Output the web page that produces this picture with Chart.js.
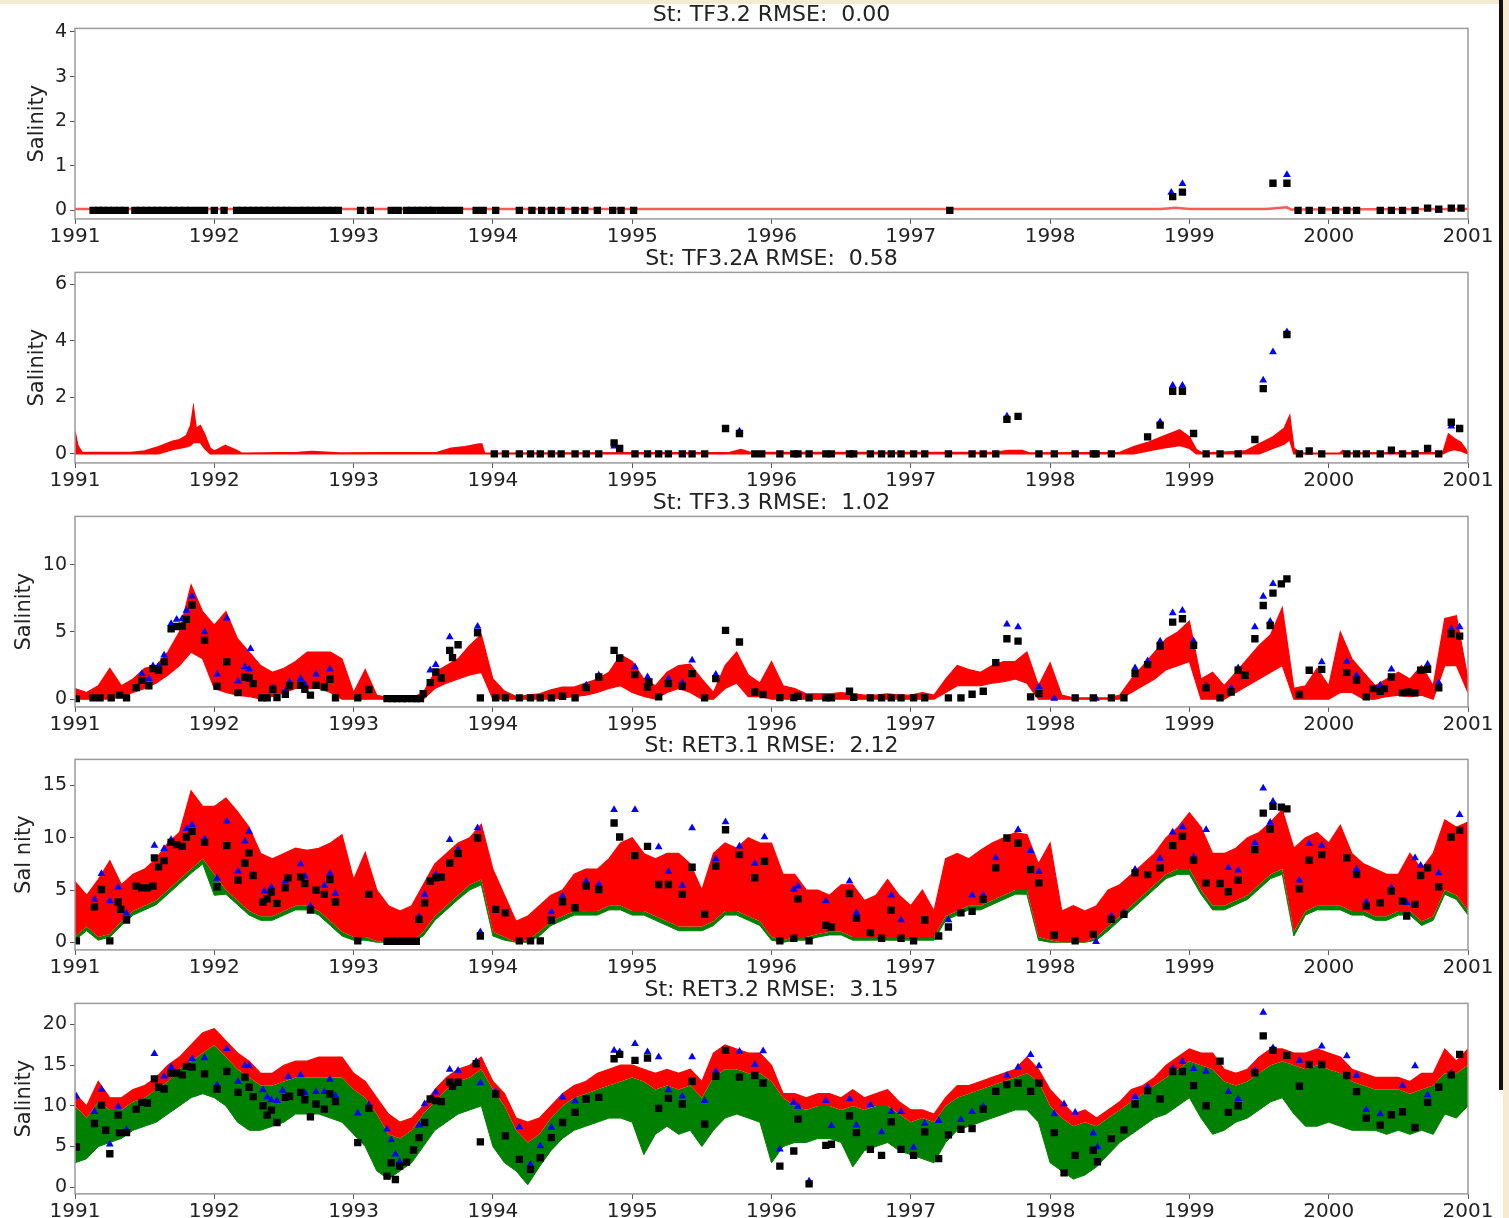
<!DOCTYPE html>
<html>
<head>
<meta charset="utf-8">
<script src="https://cdn.jsdelivr.net/npm/chart.js@4.4.0/dist/chart.umd.min.js"></script>
<style>
    body { margin: 0; background: #fff; }
    #figura { position: relative; width: 1509px; height: 1218px; background: #fff; overflow: hidden; }
    #figura canvas { position: absolute; left: 0; }
    .borde-sup { position: absolute; left: 0; top: 0; width: 1509px; height: 4px; background: #f6ead0; }
    .borde-der { position: absolute; left: 1499px; top: 0; width: 4px; height: 1090px; background: #111; }
    .fondo-der { position: absolute; left: 1503px; top: 0; width: 6px; height: 1218px; background: #f6ead0; }
</style>
</head>
<body>
<div id="figura">
    <div class="borde-sup"></div>
    <div class="fondo-der"></div>
    <div class="borde-der"></div>
    <canvas id="g1" width="1509" height="249"></canvas>
    <canvas id="g2" width="1509" height="249"></canvas>
    <canvas id="g3" width="1509" height="249"></canvas>
    <canvas id="g4" width="1509" height="249"></canvas>
    <canvas id="g5" width="1509" height="249"></canvas>
</div>
<script>
// etiquetas del eje x
const anios = [1991, 1992, 1993, 1994, 1995, 1996, 1997, 1998, 1999, 2000, 2001];
// malla mensual 1991.0 .. 2001.0 (121 puntos)
const meses = Array.from({length: 121}, (_, k) => 1991 + k / 12);

// ---------- St: TF3.2 ----------
const tf32Modelo = [[1991, 0.03], [1998.8, 0.03], [1998.9, 0.06], [1999.0, 0.03], [1999.55, 0.03], [1999.7, 0.07], [1999.73, 0.02], [2001, 0.03]];
const tf32Obs = [
    [1991.13,0],[1991.17,0],[1991.20,0],[1991.24,0],[1991.28,0],[1991.32,0],[1991.36,0],[1991.43,0],[1991.47,0],[1991.51,0],
    [1991.55,0],[1991.59,0],[1991.63,0],[1991.67,0],[1991.71,0],[1991.75,0],[1991.79,0],[1991.83,0],[1991.88,0],[1991.93,0],
    [1992.00,0],[1992.07,0],[1992.16,0],[1992.20,0],[1992.24,0],[1992.28,0],[1992.32,0],[1992.36,0],[1992.40,0],[1992.44,0],
    [1992.48,0],[1992.52,0],[1992.56,0],[1992.61,0],[1992.65,0],[1992.69,0],[1992.73,0],[1992.77,0],[1992.81,0],[1992.85,0],
    [1992.89,0],[1993.05,0],[1993.12,0],[1993.27,0],[1993.32,0],[1993.38,0],[1993.42,0],[1993.46,0],[1993.50,0],[1993.54,0],
    [1993.57,0],[1993.62,0],[1993.66,0],[1993.71,0],[1993.76,0],[1993.88,0],[1993.93,0],[1994.02,0],[1994.19,0],[1994.28,0],
    [1994.35,0],[1994.42,0],[1994.49,0],[1994.59,0],[1994.66,0],[1994.75,0],[1994.86,0],[1994.92,0],[1995.01,0],[1997.28,0],
    [1998.88,0.31],[1998.95,0.41],[1999.60,0.61],[1999.70,0.61],[1999.78,0],[1999.86,0],[1999.95,0],[2000.05,0],[2000.13,0],
    [2000.20,0],[2000.37,0],[2000.45,0],[2000.53,0],[2000.62,0],[2000.71,0.05],[2000.79,0.03],[2000.88,0.05],[2000.95,0.05]
];
const tf32Azul = [[1998.87,0.40],[1998.95,0.60],[1999.70,0.80],[2000.79,0.0]];

// ---------- St: TF3.2A ----------  [año, máximo, mínimo]
const tf32aModelo = [
    [1991.0,0.8,0],[1991.02,0.3,0],[1991.05,0.05,0],[1991.4,0.05,0],[1991.5,0.1,0],[1991.6,0.25,0],[1991.7,0.45,0.15],
    [1991.75,0.5,0.2],[1991.8,0.65,0.25],[1991.83,1.0,0.3],[1991.85,1.65,0.4],[1991.87,0.9,0.4],[1991.9,1.0,0.4],
    [1991.93,0.7,0.2],[1991.97,0.2,0],[1992.0,0.1,0],[1992.08,0.3,0],[1992.1,0.25,0],[1992.15,0.15,0],[1992.2,0.02,0],
    [1992.6,0.05,0],[1992.7,0.08,0],[1992.9,0.03,0],[1993.6,0.05,0],[1993.7,0.2,0],[1993.8,0.25,0],[1993.9,0.35,0],
    [1993.92,0.35,0],[1993.94,0.02,0],[1995.7,0.05,0],[1995.78,0.15,0],[1995.85,0.05,0],[1997.6,0.05,0],[1997.7,0.12,0],
    [1997.8,0.12,0],[1997.85,0.03,0],[1998.5,0.05,0],[1998.6,0.25,0],[1998.7,0.4,0.1],[1998.8,0.6,0.2],[1998.93,0.85,0.3],
    [1999.0,0.6,0.2],[1999.05,0.15,0],[1999.1,0.02,0],[1999.4,0.1,0],[1999.5,0.35,0],[1999.6,0.6,0.2],[1999.68,0.9,0.35],
    [1999.72,1.35,0.5],[1999.75,0.2,0],[1999.8,0.02,0],[2000.08,0.03,0],[2000.1,0.12,0],[2000.12,0.03,0],[2000.82,0.05,0],
    [2000.86,0.7,0.1],[2000.9,0.55,0.15],[2000.95,0.4,0.1],[2001.0,0.05,0]
];
const tf32aObs = [
    [1994.01,0],[1994.09,0],[1994.19,0],[1994.27,0],[1994.34,0],[1994.42,0],[1994.49,0],[1994.59,0],[1994.67,0],[1994.76,0],
    [1994.87,0.39],[1994.91,0.19],[1995.02,0],[1995.11,0],[1995.19,0],[1995.26,0],[1995.36,0],[1995.43,0],[1995.52,0],
    [1995.67,0.9],[1995.77,0.72],[1995.88,0],[1995.93,0],[1996.06,0],[1996.16,0],[1996.19,0],[1996.27,0],[1996.39,0],
    [1996.43,0],[1996.56,0],[1996.59,0],[1996.71,0],[1996.79,0],[1996.86,0],[1996.93,0],[1997.02,0],[1997.10,0],[1997.27,0],
    [1997.44,0],[1997.52,0],[1997.61,0],[1997.69,1.22],[1997.77,1.33],[1997.92,0],[1998.03,0],[1998.18,0],[1998.31,0],
    [1998.33,0],[1998.44,0],[1998.70,0.6],[1998.79,1.02],[1998.88,2.22],[1998.95,2.22],[1999.03,0.72],[1999.12,0],[1999.22,0],
    [1999.35,0],[1999.47,0.51],[1999.53,2.31],[1999.70,4.23],[1999.79,0],[1999.86,0.1],[1999.95,0],[2000.13,0],[2000.20,0],
    [2000.27,0],[2000.37,0],[2000.45,0.13],[2000.53,0],[2000.62,0],[2000.71,0.19],[2000.79,0],[2000.88,1.12],[2000.94,0.9]
];
const tf32aAzul = [[1994.87,0.27],[1995.77,0.8],[1997.69,1.33],[1998.79,1.13],[1998.88,2.42],[1998.95,2.42],[1999.53,2.61],[1999.60,3.61],[1999.70,4.32],[2000.88,0.98]];

// ---------- St: TF3.3 ---------- (mensual)
const tf33Max = [
    0.8, 0.5, 1.0, 2.3, 1.0, 1.5, 2.3, 2.5, 3.5, 5.0, 8.5, 6.5,
    5.5, 6.5, 4.5, 3.5, 2.5, 2.0, 2.3, 2.8, 3.5, 3.5, 3.5, 3.0,
    0.5, 2.2, 0.3, 0.1, 0.1, 0.1, 0.5, 2.0, 2.5, 3.0, 4.0, 4.8,
    1.5, 0.6, 0.2, 0.3, 0.4, 0.7, 0.9, 0.9, 1.2, 1.5, 2.0, 3.3,
    2.8, 1.5, 1.0, 2.0, 2.5, 2.6, 1.5, 0.5, 2.5, 3.5, 1.8, 1.2,
    2.8, 1.0, 0.8, 0.4, 0.4, 0.4, 0.5, 0.4, 0.3, 0.3, 0.4, 0.3,
    0.3, 0.5, 0.3, 1.5, 2.5, 2.2, 2.0, 2.5, 2.8, 2.8, 3.5, 1.0,
    2.7, 0.3, 0.1, 0.1, 0.1, 0.1, 0.3, 1.5, 2.5, 3.5, 4.5, 5.0,
    5.8, 1.5, 2.0, 1.0, 2.0, 3.0, 4.0, 4.8, 6.8, 0.8, 1.0, 2.3,
    1.0, 5.0, 3.0, 2.0, 1.0, 1.5, 2.0, 1.5, 2.5, 1.0, 6.0, 6.2,
    1.5
];
const tf33Min = [
    0, 0, 0, 0, 0.2, 0.5, 0.8, 1.2, 1.8, 2.5, 3.5, 3.0,
    0.8, 0.5, 0.3, 0.2, 0, 0.2, 0.5, 0.8, 0.8, 0.8, 0.5, 0,
    0, 0, 0, 0, 0, 0, 0, 0.8, 1.2, 1.5, 1.8, 2.0,
    0, 0, 0, 0, 0, 0, 0.1, 0.2, 0.3, 0.5, 0.8, 1.0,
    0.5, 0.2, 0, 0.5, 0.8, 0.5, 0, 0, 0.8, 1.2, 0.2, 0.2,
    0, 0, 0, 0, 0, 0, 0, 0, 0, 0, 0, 0,
    0, 0, 0, 0.5, 1.0, 1.0, 1.0, 1.2, 1.3, 1.5, 1.2, 0,
    0, 0, 0, 0, 0, 0, 0, 0.5, 1.0, 1.5, 2.2, 2.5,
    2.8, 0, 0, 0, 0.5, 1.0, 1.5, 2.0, 2.5, 0, 0, 0,
    0, 0.5, 0.5, 0, 0, 0.2, 0.3, 0.2, 0.3, 0, 2.5, 2.5,
    0.5
];
const tf33Obs = [
    [1991.01,0.05],[1991.13,0.1],[1991.18,0.1],[1991.26,0.1],[1991.32,0.3],[1991.37,0.1],[1991.44,0.86],[1991.48,1.4],
    [1991.53,1.0],[1991.56,2.27],[1991.60,2.15],[1991.64,2.77],[1991.69,5.23],[1991.73,5.4],[1991.77,5.43],[1991.80,5.93],
    [1991.84,7.0],[1991.93,4.37],[1992.02,0.96],[1992.09,2.77],[1992.17,0.49],[1992.22,1.65],[1992.25,1.58],[1992.28,1.16],
    [1992.34,0.1],[1992.38,0.1],[1992.42,0.74],[1992.45,0.12],[1992.51,0.37],[1992.54,1.0],[1992.62,1.04],[1992.65,0.74],
    [1992.69,0.3],[1992.73,1.04],[1992.79,0.91],[1992.83,1.48],[1992.87,0.1],[1993.03,0.1],[1993.11,0.72],[1993.24,0.05],
    [1993.28,0.05],[1993.31,0.05],[1993.35,0.05],[1993.38,0.05],[1993.42,0.05],[1993.45,0.05],[1993.48,0.05],[1993.50,0.42],
    [1993.55,1.23],[1993.59,2.02],[1993.63,1.58],[1993.69,3.63],[1993.71,3.09],[1993.75,4.05],[1993.89,4.94],[1993.91,0.1],
    [1994.02,0.1],[1994.09,0.1],[1994.19,0.1],[1994.27,0.1],[1994.34,0.1],[1994.42,0.1],[1994.50,0.22],[1994.59,0.1],
    [1994.67,0.86],[1994.76,1.65],[1994.87,3.63],[1994.91,3.06],[1995.02,1.83],[1995.11,0.91],[1995.12,1.28],[1995.19,0.17],
    [1995.26,1.16],[1995.36,0.96],[1995.43,1.9],[1995.52,0.1],[1995.60,1.53],[1995.67,5.11],[1995.77,4.25],[1995.88,0.54],
    [1995.94,0.35],[1996.06,0.12],[1996.16,0.12],[1996.19,0.22],[1996.27,0.1],[1996.39,0.1],[1996.43,0.1],[1996.56,0.59],
    [1996.59,0.15],[1996.71,0.1],[1996.79,0.1],[1996.86,0.1],[1996.93,0.1],[1997.02,0.1],[1997.10,0.1],[1997.27,0.1],
    [1997.36,0.1],[1997.44,0.37],[1997.52,0.59],[1997.61,2.72],[1997.69,4.49],[1997.77,4.32],[1997.86,0.17],[1997.92,0.42],
    [1998.18,0.1],[1998.31,0.1],[1998.44,0.1],[1998.53,0.1],[1998.61,1.9],[1998.70,2.57],[1998.79,3.95],[1998.88,5.73],
    [1998.95,5.98],[1999.03,4.0],[1999.12,0.84],[1999.22,0.1],[1999.30,0.54],[1999.35,2.15],[1999.40,1.78],[1999.47,4.49],
    [1999.53,6.96],[1999.58,5.48],[1999.60,7.88],[1999.66,8.57],[1999.70,8.94],[1999.79,0.35],[1999.86,2.15],[1999.95,2.22],
    [2000.13,1.98],[2000.20,1.41],[2000.27,0.17],[2000.32,0.79],[2000.37,0.59],[2000.40,0.79],[2000.45,1.65],[2000.53,0.47],
    [2000.57,0.54],[2000.62,0.47],[2000.66,2.15],[2000.71,2.22],[2000.79,0.84],[2000.88,4.86],[2000.94,4.69]
];
const tf33Azul = [
    [1991.48,1.9],[1991.53,1.53],[1991.56,2.47],[1991.60,2.47],[1991.64,3.26],[1991.69,5.6],[1991.73,5.93],[1991.77,5.98],
    [1991.80,6.59],[1991.84,7.65],[1991.93,4.99],[1992.02,1.85],[1992.09,6.02],[1992.17,1.33],[1992.22,2.4],[1992.25,2.22],
    [1992.26,3.75],[1992.42,0.84],[1992.51,0.6],[1992.54,1.28],[1992.62,1.53],[1992.65,1.09],[1992.73,1.85],[1992.83,2.22],
    [1993.55,2.15],[1993.59,2.57],[1993.69,4.62],[1993.89,5.41],[1994.67,1.04],[1994.76,1.78],[1995.02,2.4],[1995.11,1.65],
    [1995.26,1.53],[1995.36,1.23],[1995.43,2.89],[1995.60,1.83],[1997.69,5.56],[1997.77,5.36],[1997.92,0.91],[1998.03,0.05],
    [1998.33,0.05],[1998.61,2.32],[1998.70,2.84],[1998.79,4.3],[1998.88,6.4],[1998.95,6.59],[1999.03,4.32],[1999.12,0.99],
    [1999.30,0.84],[1999.35,2.32],[1999.47,5.36],[1999.53,7.63],[1999.58,5.78],[1999.60,8.57],[1999.95,2.77],[2000.13,2.81],
    [2000.20,1.78],[2000.37,1.04],[2000.45,2.22],[2000.71,2.59],[2000.79,1.23],[2000.88,5.23],[2000.94,5.36]
];

// ---------- St: RET3.1 ---------- (mensual)
const ret31Max = [
    5.8, 4.5, 6.0, 7.8, 5.5, 6.5, 7.0, 8.0, 9.5, 10.5, 14.5, 13.0,
    13.0, 13.8, 12.5, 11.0, 8.5, 8.0, 8.5, 9.0, 8.8, 9.0, 9.5, 10.3,
    6.0, 8.6, 5.0, 3.5, 3.0, 3.5, 5.5, 7.5, 8.5, 9.5, 10.0, 11.3,
    7.0, 4.5, 2.0, 2.5, 3.5, 4.5, 5.0, 6.5, 7.0, 7.0, 8.0, 9.5,
    10.0, 8.5, 8.0, 8.5, 8.5, 7.5, 5.0, 8.5, 9.5, 9.0, 10.0, 9.5,
    9.5, 6.5, 6.5, 5.0, 5.0, 4.5, 5.5, 5.5, 4.0, 4.5, 6.0, 4.5,
    3.5, 5.0, 3.0, 8.0, 8.5, 8.0, 8.8, 9.5, 10.0, 10.5, 10.3, 7.5,
    9.5, 3.0, 3.5, 3.0, 3.5, 5.0, 5.5, 6.5, 7.5, 8.5, 10.0, 11.0,
    12.4, 11.0, 8.5, 8.5, 9.0, 10.0, 10.5, 11.5, 12.7, 9.0, 10.0, 10.5,
    9.5, 11.2, 8.5, 7.5, 7.0, 6.5, 6.5, 8.5, 7.0, 8.5, 11.7, 11.0,
    11.5
];
const ret31Min = [
    0.5, 1.5, 0.5, 0.8, 2.0, 3.0, 3.5, 4.0, 5.0, 6.0, 7.0, 8.0,
    6.5, 5.0, 4.0, 3.0, 2.5, 2.5, 3.0, 3.5, 3.5, 3.0, 2.0, 1.0,
    0.5, 0.5, 0.1, 0, 0, 0, 1.0, 2.5, 3.5, 4.5, 5.5, 6.0,
    1.0, 0.5, 0, 0.2, 1.0, 2.0, 2.5, 3.0, 3.0, 3.0, 3.5, 3.5,
    3.0, 3.0, 2.5, 2.0, 1.5, 1.5, 1.5, 2.0, 3.0, 3.0, 2.5, 2.0,
    0.5, 0.2, 0.5, 0.5, 0.8, 1.0, 1.0, 0.5, 0.5, 0.5, 0.5, 0.5,
    0.5, 0.5, 0.5, 2.5, 3.0, 3.5, 3.5, 4.0, 4.5, 5.0, 5.0, 0.5,
    0.2, 0, 0, 0, 0.5, 1.5, 2.5, 3.5, 4.5, 5.5, 6.5, 7.0,
    7.0, 5.0, 3.5, 3.5, 4.0, 4.5, 5.5, 6.5, 7.0, 1.0, 3.0, 3.5,
    3.5, 3.5, 3.0, 3.0, 2.5, 2.5, 3.0, 3.0, 2.0, 2.5, 5.0, 4.5,
    3.0
];
const ret31Verde = [
    0.2, 1.1, 0.2, 0.5, 1.6, 2.6, 3.1, 3.6, 4.6, 5.6, 6.6, 7.5,
    4.5, 4.6, 3.6, 2.6, 2.1, 2.1, 2.6, 3.1, 3.1, 2.6, 1.6, 0.6,
    0.2, 0.2, 0, 0, 0, 0, 0.6, 2.1, 3.1, 4.1, 5.0, 5.5,
    0.6, 0.2, 0, 0, 0.6, 1.6, 2.1, 2.6, 2.6, 2.6, 3.1, 3.1,
    2.6, 2.6, 2.1, 1.6, 1.1, 1.1, 1.1, 1.6, 2.6, 2.6, 2.1, 1.6,
    0.2, 0, 0.2, 0.2, 0.5, 0.7, 0.7, 0.2, 0.2, 0.2, 0.2, 0.2,
    0.2, 0.2, 0.2, 2.1, 2.6, 3.1, 3.1, 3.6, 4.1, 4.6, 4.6, 0.2,
    0, 0, 0, 0, 0.2, 1.1, 2.1, 3.1, 4.1, 5.1, 6.1, 6.5,
    6.5, 4.6, 3.1, 3.1, 3.6, 4.1, 5.1, 6.1, 6.5, 0.6, 2.6, 3.1,
    3.1, 3.1, 2.6, 2.6, 2.1, 2.1, 2.6, 2.6, 1.6, 2.1, 4.6, 4.1,
    2.6
];
const ret31Obs = [
    [1991.01,0.13],[1991.14,3.4],[1991.19,5.05],[1991.25,0.13],[1991.31,3.85],[1991.33,3.15],[1991.37,2.13],[1991.44,5.37],
    [1991.48,5.21],[1991.52,5.21],[1991.56,5.37],[1991.57,8.07],[1991.60,7.21],[1991.64,7.82],[1991.69,9.56],[1991.73,9.34],
    [1991.77,9.18],[1991.80,10.07],[1991.84,10.61],[1991.93,9.56],[1992.02,5.31],[1992.09,9.25],[1992.17,5.94],[1992.22,7.59],
    [1992.25,8.55],[1992.28,6.39],[1992.35,3.85],[1992.38,4.16],[1992.41,4.8],[1992.45,3.72],[1992.51,5.21],[1992.53,6.16],
    [1992.62,6.26],[1992.65,5.62],[1992.69,3.08],[1992.73,4.99],[1992.79,4.58],[1992.83,6.01],[1992.87,3.85],[1993.03,0.13],
    [1993.11,4.58],[1993.24,0.1],[1993.28,0.1],[1993.31,0.1],[1993.35,0.1],[1993.38,0.1],[1993.42,0.1],[1993.45,0.1],
    [1993.47,2.19],[1993.51,3.78],[1993.55,5.85],[1993.59,6.16],[1993.63,6.23],[1993.69,7.59],[1993.75,8.48],[1993.89,9.98],
    [1993.91,0.6],[1994.02,3.15],[1994.09,2.83],[1994.19,0.13],[1994.27,0.13],[1994.34,0.13],[1994.42,2.13],[1994.50,3.88],
    [1994.59,3.3],[1994.67,5.37],[1994.76,5.05],[1994.87,11.41],[1994.91,10.07],[1995.02,8.29],[1995.11,9.18],[1995.19,5.53],
    [1995.26,5.53],[1995.36,4.58],[1995.43,7.18],[1995.52,2.67],[1995.60,7.28],[1995.67,10.77],[1995.77,8.39],[1995.88,6.16],
    [1995.95,7.75],[1996.06,0.13],[1996.16,0.38],[1996.19,4.16],[1996.27,0.13],[1996.39,1.62],[1996.43,1.46],[1996.56,4.67],
    [1996.61,2.29],[1996.71,0.92],[1996.79,0.38],[1996.86,3.08],[1996.93,0.38],[1997.02,0.13],[1997.10,2.13],[1997.20,0.6],
    [1997.27,1.46],[1997.36,2.83],[1997.44,2.96],[1997.52,4.1],[1997.61,7.12],[1997.69,9.98],[1997.77,9.5],[1997.86,6.96],
    [1997.92,5.69],[1998.03,0.7],[1998.18,0.13],[1998.31,0.76],[1998.44,2.19],[1998.53,2.67],[1998.61,6.64],[1998.70,6.48],
    [1998.79,7.12],[1998.88,9.25],[1998.95,10.14],[1999.03,7.85],[1999.12,5.69],[1999.22,5.62],[1999.28,4.83],[1999.35,5.94],
    [1999.47,8.87],[1999.53,12.36],[1999.58,10.84],[1999.60,13.0],[1999.66,12.93],[1999.70,12.77],[1999.79,5.12],[1999.86,7.85],
    [1999.95,8.39],[2000.13,8.07],[2000.20,6.48],[2000.27,3.46],[2000.37,3.78],[2000.45,4.89],[2000.53,3.94],[2000.56,2.51],
    [2000.62,3.62],[2000.66,6.39],[2000.71,7.12],[2000.79,5.31],[2000.88,10.07],[2000.94,10.71]
];
const ret31Azul = [
    [1991.14,4.1],[1991.19,6.55],[1991.25,3.94],[1991.31,5.27],[1991.37,2.76],[1991.57,9.25],[1991.64,8.96],[1991.69,9.82],
    [1991.80,10.87],[1991.84,11.25],[1991.93,9.88],[1992.02,6.1],[1992.09,11.57],[1992.17,6.8],[1992.22,9.66],[1992.25,10.61],
    [1992.28,6.48],[1992.36,4.89],[1992.41,5.27],[1992.51,5.85],[1992.62,7.5],[1992.65,6.32],[1992.69,3.46],[1992.79,5.43],
    [1992.83,6.58],[1992.87,4.67],[1993.47,2.45],[1993.51,4.58],[1993.59,6.48],[1993.69,9.82],[1993.75,8.87],[1993.89,10.93],
    [1993.91,0.99],[1994.42,2.89],[1994.50,4.42],[1994.67,5.85],[1994.76,5.53],[1994.87,12.68],[1995.02,12.68],[1995.19,9.12],
    [1995.26,6.74],[1995.36,5.43],[1995.43,10.93],[1995.60,7.98],[1995.67,11.5],[1995.77,9.18],[1995.88,7.53],[1995.95,10.07],
    [1996.16,5.05],[1996.19,5.37],[1996.39,3.94],[1996.56,5.85],[1996.61,2.83],[1996.86,4.51],[1996.93,2.13],[1997.27,2.13],
    [1997.44,4.51],[1997.52,4.51],[1997.61,8.07],[1997.77,10.77],[1997.86,8.77],[1997.92,6.74],[1998.33,0.06],[1998.44,2.51],
    [1998.53,2.83],[1998.61,6.96],[1998.79,8.01],[1998.88,10.52],[1998.95,11.03],[1999.03,8.17],[1999.12,10.77],[1999.22,5.59],
    [1999.28,7.12],[1999.35,6.9],[1999.47,9.5],[1999.53,14.74],[1999.58,11.47],[1999.60,13.47],[1999.79,5.94],[1999.86,9.44],
    [1999.95,9.25],[2000.20,7.02],[2000.27,3.85],[2000.45,5.21],[2000.56,3.78],[2000.62,8.07],[2000.66,7.34],[2000.79,6.64],
    [2000.94,12.2]
];

// ---------- St: RET3.2 ---------- (mensual)
const ret32Max = [
    11.5, 10.0, 13.0, 11.0, 11.0, 12.0, 12.5, 13.5, 15.0, 16.0, 17.5, 19.0,
    19.5, 18.0, 16.5, 15.5, 14.0, 14.0, 15.0, 15.5, 15.5, 16.0, 16.0, 16.0,
    14.0, 13.0, 11.0, 9.0, 8.0, 8.5, 10.0, 12.0, 13.5, 14.5, 15.0, 16.0,
    13.0, 11.5, 8.5, 8.0, 8.5, 10.0, 11.5, 12.5, 13.0, 14.0, 14.5, 15.0,
    15.0, 14.5, 14.0, 14.5, 14.0, 14.5, 13.0, 16.5, 17.5, 17.0, 16.5, 16.5,
    15.0, 11.5, 11.5, 11.0, 11.5, 11.5, 11.0, 12.0, 11.0, 11.5, 12.0, 10.5,
    9.5, 9.5, 9.0, 11.0, 12.5, 12.5, 13.0, 13.5, 14.0, 14.5, 16.0, 14.5,
    12.0, 10.5, 9.0, 9.5, 8.5, 9.5, 10.5, 12.0, 12.5, 13.5, 15.0, 16.0,
    17.0, 16.5, 16.5, 14.5, 14.0, 14.5, 16.0, 17.0, 17.0, 16.5, 16.5, 17.0,
    16.5, 16.0, 14.5, 14.0, 13.5, 13.5, 13.5, 13.0, 14.0, 14.0, 17.0, 15.5,
    17.0
];
const ret32Medio = [
    10, 8.5, 10.5, 9.5, 9.5, 10.5, 11, 12, 13, 14.5, 15.5, 16.5,
    17.5, 16, 14.5, 13.5, 12.5, 12.5, 13, 13.5, 13.5, 13.5, 13.5, 13.5,
    12, 11, 9, 6.5, 6, 7, 9, 10.5, 12, 13, 13.5, 14.5,
    12, 10, 7, 5.5, 6.5, 8.5, 10, 11, 11.5, 12, 12.5, 13,
    13.5, 13, 12, 12.5, 12, 12.5, 11, 13.5, 14.5, 14.5, 14, 14,
    13, 11, 10, 9.5, 10, 10, 9.5, 10, 9.5, 10, 10, 9,
    8, 8.5, 8, 10, 11, 11.5, 12, 12.5, 13, 13.5, 14, 13,
    10, 8.5, 7.5, 8, 7.5, 8.5, 9.5, 10.5, 11.5, 12.5, 13.5, 14.5,
    15.5, 15, 14.5, 13, 12.5, 13, 14, 15, 15.5, 15, 14.5, 15,
    14.5, 14, 13, 12.5, 12, 12, 12, 11.5, 12, 12.5, 14, 14,
    15
];
const ret32Min = [
    3, 3.5, 5, 5.5, 6, 7, 7.5, 8, 9, 10, 11, 11.5,
    11, 10, 8, 7, 7, 7.5, 8, 9, 9, 9, 8.5, 8,
    6.5, 5, 2, 1, 2, 3, 5, 7, 8, 9, 9.5, 10,
    5, 3, 2, 0.3, 2.5, 4.5, 6, 7, 7.5, 8, 8.5, 8.5,
    8, 4, 6.5, 7.5, 6.5, 7, 5, 7, 8.5, 9, 8.5, 8,
    3, 5, 5.5, 5.5, 6, 6, 5.5, 2.5, 4.5, 5, 5.5, 4.5,
    4, 3.5, 3, 5.5, 7, 7.5, 8, 8.5, 9, 9.5, 9.5, 8,
    3, 2, 1, 1.5, 2.5, 4, 5.5, 6.5, 7.5, 8.5, 9, 10,
    11, 8.5, 6.5, 7, 8, 8.5, 9.5, 10.5, 11, 9, 7.5, 7.5,
    8, 7.5, 7, 7, 7, 6.5, 7, 6.5, 7, 6.5, 9, 8.5,
    10
];
const ret32Obs = [
    [1991.01,4.95],[1991.14,7.84],[1991.19,10.1],[1991.22,7.01],[1991.25,4.12],[1991.31,8.87],[1991.32,6.72],[1991.37,6.72],
    [1991.44,9.61],[1991.48,10.43],[1991.52,10.35],[1991.57,13.32],[1991.60,12.29],[1991.64,12.08],[1991.69,14.02],[1991.73,14.02],
    [1991.77,13.81],[1991.80,14.85],[1991.84,14.76],[1991.93,13.94],[1992.02,12.08],[1992.09,14.23],[1992.17,11.67],[1992.22,13.53],
    [1992.25,12.29],[1992.28,11.13],[1992.35,10.02],[1992.38,8.87],[1992.41,9.48],[1992.45,7.96],[1992.51,11.05],[1992.54,11.18],
    [1992.62,11.67],[1992.65,10.76],[1992.69,8.66],[1992.73,10.23],[1992.79,9.61],[1992.83,11.46],[1992.87,10.52],[1993.03,5.48],
    [1993.11,9.69],[1993.24,1.36],[1993.27,3.01],[1993.30,0.95],[1993.33,2.6],[1993.38,3.09],[1993.43,4.58],[1993.47,6.1],
    [1993.51,7.96],[1993.55,10.85],[1993.59,10.64],[1993.63,10.52],[1993.69,12.91],[1993.71,12.41],[1993.75,12.91],[1993.88,15.18],
    [1993.91,5.57],[1994.02,11.46],[1994.09,6.31],[1994.19,3.42],[1994.27,2.19],[1994.34,3.63],[1994.42,6.1],[1994.50,7.96],
    [1994.59,9.2],[1994.67,10.85],[1994.76,11.05],[1994.87,15.79],[1994.91,16.33],[1995.02,15.59],[1995.11,15.88],[1995.19,9.69],
    [1995.26,10.93],[1995.36,10.23],[1995.43,13.03],[1995.52,7.75],[1995.60,13.65],[1995.67,16.82],[1995.77,13.53],[1995.88,13.73],
    [1995.94,12.82],[1996.06,2.6],[1996.16,4.45],[1996.19,8.37],[1996.27,0.41],[1996.39,5.15],[1996.43,5.28],[1996.56,8.78],
    [1996.61,6.72],[1996.71,4.66],[1996.79,3.92],[1996.86,8.04],[1996.93,4.66],[1997.02,3.92],[1997.10,6.8],[1997.20,3.51],
    [1997.27,6.43],[1997.36,7.13],[1997.44,7.22],[1997.52,9.61],[1997.61,11.79],[1997.69,12.62],[1997.77,12.82],[1997.86,11.79],
    [1997.92,12.82],[1998.03,6.72],[1998.10,1.77],[1998.18,3.92],[1998.31,4.54],[1998.34,3.13],[1998.44,5.98],[1998.53,7.05],
    [1998.61,10.23],[1998.70,11.88],[1998.79,10.85],[1998.88,14.23],[1998.95,14.23],[1999.03,12.49],[1999.12,10.02],[1999.22,15.51],
    [1999.28,9.2],[1999.35,10.02],[1999.47,14.06],[1999.53,18.6],[1999.60,16.82],[1999.70,16.21],[1999.79,12.41],[1999.86,15.09],
    [1999.95,15.09],[2000.13,13.73],[2000.20,11.75],[2000.27,8.49],[2000.37,7.63],[2000.45,8.91],[2000.53,9.28],[2000.62,7.34],
    [2000.71,10.43],[2000.79,12.29],[2000.88,13.81],[2000.94,16.33]
];
const ret32Azul = [
    [1991.01,11.18],[1991.14,9.28],[1991.19,12.0],[1991.25,5.28],[1991.31,9.94],[1991.37,7.05],[1991.57,16.41],[1991.64,13.65],
    [1991.69,14.76],[1991.80,14.76],[1991.84,15.79],[1991.93,15.88],[1992.02,12.58],[1992.09,17.03],[1992.17,12.99],[1992.22,14.97],
    [1992.25,14.89],[1992.35,11.96],[1992.38,11.05],[1992.41,10.72],[1992.45,10.64],[1992.49,11.88],[1992.53,13.61],[1992.62,13.81],
    [1992.65,11.59],[1992.73,11.75],[1992.79,11.75],[1992.83,13.24],[1992.87,11.26],[1993.03,9.11],[1993.11,10.1],[1993.24,7.13],
    [1993.27,5.81],[1993.30,4.04],[1993.33,3.13],[1993.47,7.63],[1993.51,10.23],[1993.59,11.67],[1993.69,14.47],[1993.75,14.35],
    [1993.88,15.46],[1993.91,12.82],[1994.02,11.75],[1994.19,7.42],[1994.27,2.8],[1994.34,5.07],[1994.42,7.34],[1994.50,11.05],
    [1994.59,10.56],[1994.87,16.82],[1994.91,16.62],[1995.02,17.65],[1995.11,16.62],[1995.19,16.0],[1995.26,11.96],[1995.36,11.18],
    [1995.43,16.0],[1995.52,10.64],[1995.60,14.23],[1995.77,16.7],[1995.88,15.09],[1995.94,16.74],[1996.06,4.66],[1996.16,10.43],
    [1996.19,9.94],[1996.27,0.74],[1996.39,10.64],[1996.43,7.55],[1996.56,10.85],[1996.61,7.63],[1996.71,10.14],[1996.79,6.8],
    [1996.86,9.28],[1996.93,9.28],[1997.02,4.87],[1997.10,7.84],[1997.20,8.16],[1997.36,8.29],[1997.44,9.28],[1997.52,9.94],
    [1997.69,13.73],[1997.77,14.76],[1997.86,16.29],[1997.92,14.89],[1998.03,8.99],[1998.10,10.23],[1998.18,9.2],[1998.31,6.64],
    [1998.34,4.95],[1998.61,11.13],[1998.70,12.29],[1998.88,14.64],[1998.95,15.46],[1999.03,14.56],[1999.12,14.23],[1999.28,11.75],
    [1999.35,10.85],[1999.47,14.35],[1999.53,21.48],[1999.60,17.11],[1999.79,15.59],[1999.95,17.32],[2000.13,16.12],[2000.20,13.73],
    [2000.27,9.53],[2000.37,8.99],[2000.53,12.49],[2000.62,14.89],[2000.71,11.34],[2000.88,13.94]
];

const ROJO = 'rgb(255, 0, 0)';
const VERDE = 'rgb(0, 128, 0)';
const FUENTE = 'DejaVu Sans';
const ALTO_TITULO = 26.4;   // 22px * 1.2
const ALTO_AREA = 190.5;

Chart.defaults.font.family = FUENTE;

function aPuntos(lista) {
    return lista.map(p => ({x: p[0], y: p[1]}));
}
function mensual(valores) {
    return valores.map((v, k) => ({x: meses[k], y: v}));
}

// dibuja el recuadro completo alrededor del área del gráfico
const marco = {
    id: 'marco',
    afterDraw(chart) {
        const a = chart.chartArea;
        const ctx = chart.ctx;
        ctx.save();
        ctx.strokeStyle = '#9a9a9a';
        ctx.lineWidth = 1.5;
        ctx.strokeRect(a.left, a.top, a.right - a.left, a.bottom - a.top);
        ctx.restore();
    }
};

function linea(datos, color, ancho, relleno, fondo) {
    return {
        type: 'line',
        data: datos,
        borderColor: color,
        borderWidth: ancho,
        backgroundColor: fondo || color,
        fill: relleno,
        pointRadius: 0,
        tension: 0,
        order: 5
    };
}

function mostrarPanel(id, arriba, titulo, etiquetaY, padY, yMin, yMax, yTicks, bandas, negros, azules) {
    const lienzo = document.getElementById(id);
    lienzo.style.top = (arriba - ALTO_TITULO) + 'px';

    const datasets = [
        {
            type: 'line', data: aPuntos(negros), showLine: false,
            pointStyle: 'rect', pointRadius: 5.2, pointBorderWidth: 0,
            pointBackgroundColor: '#000', order: 0
        },
        {
            type: 'line', data: aPuntos(azules), showLine: false,
            pointStyle: 'triangle', pointRadius: 4.5, pointBorderWidth: 0,
            pointBackgroundColor: 'rgb(0, 0, 255)', order: 1
        }
    ].concat(bandas);

    new Chart(lienzo.getContext('2d'), {
        type: 'line',
        data: {datasets: datasets},
        options: {
            responsive: false,
            animation: false,
            devicePixelRatio: 1,
            events: [],
            layout: {padding: {left: 0, right: 41, top: 0, bottom: 0}},
            plugins: {
                legend: {display: false},
                tooltip: {enabled: false},
                title: {
                    display: true, text: titulo, fullSize: false,
                    color: '#222', font: {family: FUENTE, size: 22, weight: 'normal'},
                    padding: {top: 0, bottom: 0}
                }
            },
            scales: {
                x: {
                    type: 'linear', min: 1991, max: 2001,
                    afterFit: s => { s.height = 249 - ALTO_TITULO - ALTO_AREA; },
                    afterBuildTicks: s => { s.ticks = anios.map(v => ({value: v})); },
                    ticks: {
                        callback: v => String(v), color: '#222', padding: 1,
                        maxRotation: 0, autoSkip: false,
                        font: {family: FUENTE, size: 20}
                    },
                    grid: {drawOnChartArea: false, tickLength: 5, color: '#555'},
                    border: {display: false}
                },
                y: {
                    type: 'linear', min: yMin, max: yMax,
                    afterFit: s => { s.width = 75; },
                    afterBuildTicks: s => { s.ticks = yTicks.map(v => ({value: v})); },
                    ticks: {
                        callback: v => String(v), color: '#222', padding: 3,
                        font: {family: FUENTE, size: 19}
                    },
                    grid: {drawOnChartArea: false, tickLength: 5, color: '#555'},
                    border: {display: false},
                    title: {
                        display: true, text: etiquetaY, color: '#222',
                        font: {family: FUENTE, size: 21}, padding: {top: padY, bottom: 0}
                    }
                }
            }
        },
        plugins: [marco]
    });
}

// Panel 1
mostrarPanel('g1', 28, 'St: TF3.2 RMSE:  0.00', 'Salinity', 25, -0.19, 4.08, [0, 1, 2, 3, 4],
    [linea(aPuntos(tf32Modelo), 'rgba(255, 60, 60, 0.85)', 2.5, false)],
    tf32Obs, tf32Azul);

// Panel 2
mostrarPanel('g2', 272.5, 'St: TF3.2A RMSE:  0.58', 'Salinity', 25, -0.32, 6.43, [0, 2, 4, 6],
    [
        linea(tf32aModelo.map(p => ({x: p[0], y: p[1]})), ROJO, 1.5, '+1'),
        linea(tf32aModelo.map(p => ({x: p[0], y: p[2]})), ROJO, 1.5, false)
    ],
    tf32aObs, tf32aAzul);

// Panel 3
mostrarPanel('g3', 516, 'St: TF3.3 RMSE:  1.02', 'Salinity', 12, -0.57, 13.58, [0, 5, 10],
    [
        linea(mensual(tf33Max), ROJO, 1.2, '+1'),
        linea(mensual(tf33Min), ROJO, 1.2, false)
    ],
    tf33Obs, tf33Azul);

// Panel 4
mostrarPanel('g4', 759.5, 'St: RET3.1 RMSE:  2.12', 'Sal nity', 12, -0.73, 17.5, [0, 5, 10, 15],
    [
        linea(mensual(ret31Max), ROJO, 1.2, '+1'),
        linea(mensual(ret31Min), ROJO, 0, '+1', VERDE),
        linea(mensual(ret31Verde), VERDE, 1, false)
    ],
    ret31Obs, ret31Azul);

// Panel 5
mostrarPanel('g5', 1003.5, 'St: RET3.2 RMSE:  3.15', 'Salinity', 12, -0.82, 22.6, [0, 5, 10, 15, 20],
    [
        linea(mensual(ret32Max), ROJO, 1.2, '+1'),
        linea(mensual(ret32Medio), VERDE, 0, '+1', VERDE),
        linea(mensual(ret32Min), VERDE, 1, false)
    ],
    ret32Obs, ret32Azul);
</script>
</body>
</html>
